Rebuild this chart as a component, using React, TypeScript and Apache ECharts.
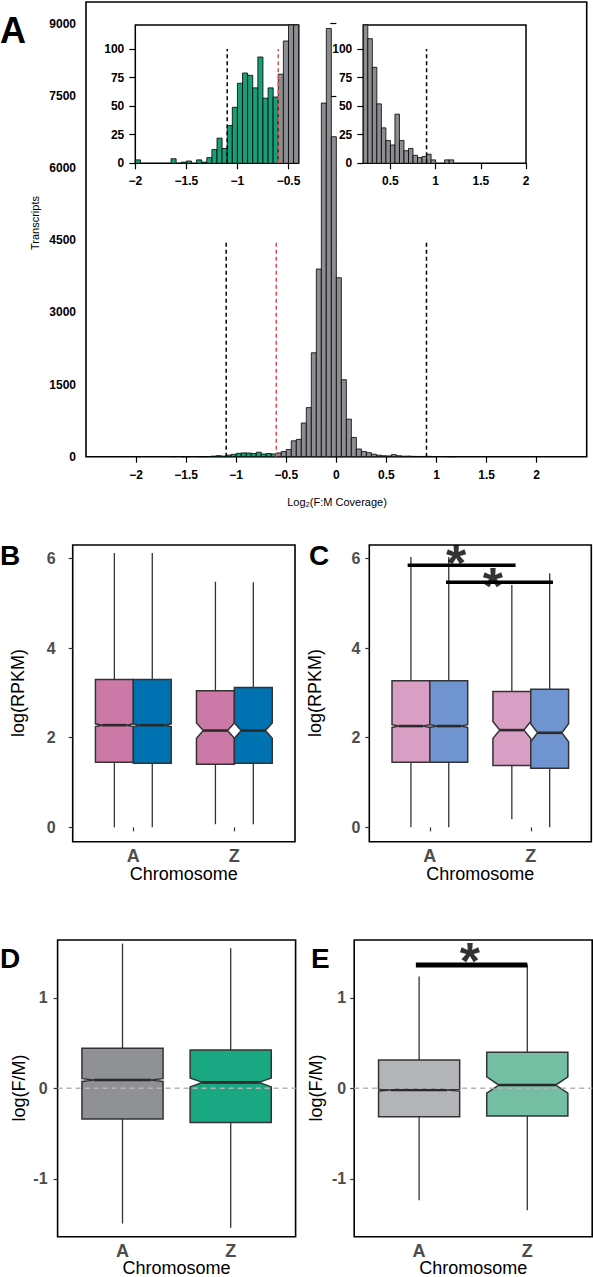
import React, { useEffect, useRef } from "react";
import * as echarts from "echarts";

const FONT = "'Liberation Sans', Arial, Helvetica, sans-serif";

// ---------- Panel A : histogram of Log2(F:M coverage) ----------
const binWidth = 0.05;
const binStarts = [
  -2.0, -1.95, -1.9, -1.85, -1.8, -1.75, -1.7, -1.65, -1.6, -1.55, -1.5, -1.45,
  -1.4, -1.35, -1.3, -1.25, -1.2, -1.15, -1.1, -1.05, -1.0, -0.95, -0.9, -0.85,
  -0.8, -0.75, -0.7, -0.65, -0.6, -0.55, -0.5, -0.45, -0.4, -0.35, -0.3, -0.25,
  -0.2, -0.15, -0.1, -0.05, 0.0, 0.05, 0.1, 0.15, 0.2, 0.25, 0.3, 0.35, 0.4,
  0.45, 0.5, 0.55, 0.6, 0.65, 0.7, 0.75, 0.8, 0.85, 0.9, 0.95, 1.0, 1.05, 1.1, 1.15,
];
const binCounts = [
  3, 0, 0, 0, 0, 0, 0, 4, 0, 1, 2, 0,
  3, 1, 5, 12, 22, 13, 33, 49, 70, 79, 77, 66,
  93, 57, 66, 58, 78, 107, 150, 330, 360, 700, 1020, 2160,
  3900, 7350, 8900, 6650, 3720, 1600, 780, 400, 160, 109, 84, 52, 31,
  20, 16, 43, 20, 11, 13, 7, 5, 6, 8, 3, 0, 0, 3, 3,
];
const cutLow = -1.1;
const cutRed = -0.6;
const cutMedian = -0.1;
const cutHigh = 0.9;
const cutLineTop = 4500;
const medianLineTop = 6200;
const insetCutTop = 100;

const mainXTicks = [-2, -1.5, -1, -0.5, 0, 0.5, 1, 1.5, 2];
const mainYTicks = [0, 1500, 3000, 4500, 6000, 7500, 9000];
const insetYTicks = [0, 25, 50, 75, 100];
const insetLeftXTicks = [-2, -1.5, -1, -0.5];
const insetRightXTicks = [0.5, 1, 1.5, 2];

// ---------- Panels B-E : box plots ----------
const chromosomes = ["A", "Z"];
const rpkmTicks = [0, 2, 4, 6];
const fmTicks = [-1, 0, 1];

// [whiskerLow, Q1, median, Q3, whiskerHigh, notchHalfHeight]
const bAFemale = [0.0, 1.45, 2.28, 3.3, 6.12, 0.03];
const bAMale = [0.0, 1.43, 2.28, 3.3, 6.12, 0.03];
const bZFemale = [0.07, 1.41, 2.16, 3.05, 5.48, 0.17];
const bZMale = [0.07, 1.43, 2.16, 3.12, 5.47, 0.17];

const cAFemale = [0.0, 1.45, 2.26, 3.27, 6.03, 0.03];
const cAMale = [0.0, 1.45, 2.26, 3.27, 6.03, 0.03];
const cZFemale = [0.18, 1.38, 2.17, 3.03, 5.41, 0.19];
const cZMale = [0.0, 1.32, 2.11, 3.08, 5.67, 0.2];

const dA = [-1.495, -0.34, 0.092, 0.443, 1.6, 0.015];
const dZ = [-1.54, -0.377, 0.066, 0.424, 1.55, 0.05];

const eA = [-1.237, -0.314, -0.019, 0.313, 1.236, 0.01];
const eZ = [-1.348, -0.307, 0.037, 0.399, 1.37, 0.09];

// significance brackets [xStart, xEnd, y] and stars [x, y]
const bracketsC = [
  [0.78, 1.85, 5.85],
  [1.16, 2.22, 5.47],
];
const starsC = [
  [1.26, 5.89],
  [1.625, 5.39],
];
const bracketsE = [[0.97, 2.0, 1.365]];
const starsE = [[1.47, 1.41]];

const GREEN = "#1b9e77";
const GRAY = "#8c8d90";
const colorsB = ["#CC79A7", "#0072B2", "#CC79A7", "#0072B2"];
const colorsC = ["#d89ec3", "#7094cf", "#d89ec3", "#7094cf"];
const colorsD = ["#8f9194", "#1aa882"];
const colorsE = ["#b3b4b7", "#74bea3"];

const minusFmt = (v: number) => (v < 0 ? "\u2212" + Math.abs(v) : String(v));

function histData(lo: number, hi: number) {
  const out: number[][] = [];
  binStarts.forEach((s, i) => {
    const e = s + binWidth;
    if (s >= lo - 1e-9 && e <= hi + 1e-9 && binCounts[i] > 0) out.push([s, e, binCounts[i]]);
  });
  return out;
}

function histRender(cap: number) {
  return (params: any, api: any) => {
    const x0 = api.value(0);
    const x1 = api.value(1);
    const v = Math.min(api.value(2), cap);
    const a = api.coord([x0, 0]);
    const b = api.coord([x1, v]);
    return {
      type: "rect",
      shape: { x: a[0], y: b[1], width: b[0] - a[0], height: a[1] - b[1] },
      style: { fill: x0 < cutRed - 1e-9 ? GREEN : GRAY, stroke: "#000", lineWidth: 0.8 },
    };
  };
}

function boxRender(colors: string[], width: number, indentFrac: number) {
  return (params: any, api: any) => {
    const x = api.value(0);
    const lo = api.value(1);
    const q1 = api.value(2);
    const med = api.value(3);
    const q3 = api.value(4);
    const hi = api.value(5);
    const nh = api.value(6);
    const hw = width / 2;
    const ind = width * indentFrac;
    const P = (xx: number, yy: number) => api.coord([xx, yy]);
    const top = P(x, hi);
    const bot = P(x, lo);
    const pq3 = P(x, q3);
    const pq1 = P(x, q1);
    const pts = [
      P(x - hw, q3), P(x + hw, q3), P(x + hw, med + nh), P(x + hw - ind, med),
      P(x + hw, med - nh), P(x + hw, q1), P(x - hw, q1), P(x - hw, med - nh),
      P(x - hw + ind, med), P(x - hw, med + nh),
    ];
    const m0 = P(x - hw + ind, med);
    const m1 = P(x + hw - ind, med);
    return {
      type: "group",
      children: [
        { type: "line", shape: { x1: top[0], y1: top[1], x2: pq3[0], y2: pq3[1] }, style: { stroke: "#333", lineWidth: 1.3 } },
        { type: "line", shape: { x1: bot[0], y1: bot[1], x2: pq1[0], y2: pq1[1] }, style: { stroke: "#333", lineWidth: 1.3 } },
        { type: "polygon", shape: { points: pts }, style: { fill: colors[params.dataIndex], stroke: "#333", lineWidth: 1.5 } },
        { type: "line", shape: { x1: m0[0], y1: m0[1], x2: m1[0], y2: m1[1] }, style: { stroke: "#2a2a2a", lineWidth: 2.6 } },
      ],
    };
  };
}

function boxData(stats: number[][], dodge: boolean) {
  return stats.map((s, i) => {
    const cat = dodge ? Math.floor(i / 2) : i;
    const off = dodge ? (i % 2 === 0 ? -0.1875 : 0.1875) : 0;
    return [cat + 1 + off, ...s];
  });
}

function vline(x: number, top: number, color: string, xi: number, z: number) {
  return {
    type: "line", xAxisIndex: xi, yAxisIndex: xi, z, silent: true, symbol: "none",
    data: [[x, 0], [x, top]],
    lineStyle: { color, width: 1.5, type: [4, 3] },
  };
}

function txt(text: string, x: number, y: number, size: number, o: any = {}) {
  return {
    type: "text", x, y, rotation: o.rot || 0, silent: true, z: 50,
    style: {
      text, fontSize: size, fontFamily: FONT, fontWeight: o.weight || "normal",
      fill: o.color || "#000", align: o.align || "center", verticalAlign: "middle",
    },
  };
}

function histXAxis(grid: number, min: number, max: number, ticks: number[], z: number) {
  return {
    type: "value", gridIndex: grid, min, max, z,
    axisLine: { show: false }, splitLine: { show: false },
    axisTick: { show: true, customValues: ticks, length: 6, lineStyle: { color: "#000", width: 1.2 } },
    axisLabel: { customValues: ticks, formatter: minusFmt, fontSize: 12, fontWeight: "bold", color: "#000", fontFamily: FONT, margin: 12 },
  };
}
function histYAxis(grid: number, min: number, max: number, ticks: number[], z: number, margin: number) {
  return {
    type: "value", gridIndex: grid, min, max, z,
    axisLine: { show: false }, splitLine: { show: false },
    axisTick: { show: true, customValues: ticks, length: 6, lineStyle: { color: "#000", width: 1.2 } },
    axisLabel: { customValues: ticks, formatter: (v: number) => String(v), fontSize: 12, fontWeight: "bold", color: "#000", fontFamily: FONT, margin },
  };
}
function boxXAxis(grid: number) {
  return {
    type: "value", gridIndex: grid, min: 0.4, max: 2.6,
    axisLine: { show: false }, splitLine: { show: false },
    axisTick: { show: true, customValues: [1, 2], length: 4, lineStyle: { color: "#333", width: 1.2 } },
    axisLabel: { customValues: [1, 2], formatter: (v: number) => chromosomes[Math.round(v) - 1], fontSize: 18, fontWeight: "bold", color: "#4d4d4d", fontFamily: FONT, margin: 5 },
  };
}
function boxYAxis(grid: number, min: number, max: number, ticks: number[], margin: number) {
  return {
    type: "value", gridIndex: grid, min, max,
    axisLine: { show: false }, splitLine: { show: false },
    axisTick: { show: true, customValues: ticks, length: 4, lineStyle: { color: "#333", width: 1.2 } },
    axisLabel: { customValues: ticks, formatter: (v: number) => String(v), fontSize: 16, fontWeight: "bold", color: "#4d4d4d", fontFamily: FONT, margin },
  };
}

function bracketSeries(list: number[][], xi: number, width: number) {
  return list.map((b) => ({
    type: "line", xAxisIndex: xi, yAxisIndex: xi, z: 10, silent: true, symbol: "none",
    data: [[b[0], b[2]], [b[1], b[2]]],
    lineStyle: { color: "#000", width },
  }));
}
function starSeries(list: number[][], xi: number) {
  return {
    type: "scatter", xAxisIndex: xi, yAxisIndex: xi, z: 11, silent: true,
    symbolSize: 1, itemStyle: { color: "rgba(0,0,0,0)" },
    data: list,
    label: { show: true, position: "inside", formatter: "*", fontSize: 52, fontWeight: "bold", color: "#000", fontFamily: FONT },
  };
}

export default function App() {
  const ref = useRef<HTMLDivElement>(null);
  useEffect(() => {
    if (!ref.current) return;
    const chart = echarts.init(ref.current, undefined, { renderer: "svg" });
    const frame = { show: true, borderColor: "#000", borderWidth: 1.6, backgroundColor: "rgba(0,0,0,0)" };
    const insetFrame = { show: true, borderColor: "#000", borderWidth: 1.5, backgroundColor: "#fff", z: 5 };
    const option: any = {
      animation: false,
      grid: [
        { ...frame, left: 86, top: 2, width: 500.7, height: 454.7 },
        { ...insetFrame, left: 135.3, top: 25, width: 163.4, height: 138.3 },
        { ...insetFrame, left: 363.3, top: 25, width: 162.7, height: 138.3 },
        { ...frame, left: 72.7, top: 545, width: 222.3, height: 296.7 },
        { ...frame, left: 369.3, top: 545, width: 222, height: 296.7 },
        { ...frame, left: 57.6, top: 940, width: 238, height: 296.7 },
        { ...frame, left: 354.2, top: 940, width: 238, height: 296.7 },
      ],
      xAxis: [
        histXAxis(0, -2.5, 2.5, mainXTicks, 0),
        histXAxis(1, -2, -0.4, insetLeftXTicks, 6),
        histXAxis(2, 0.2, 2, insetRightXTicks, 6),
        boxXAxis(3), boxXAxis(4), boxXAxis(5), boxXAxis(6),
      ],
      yAxis: [
        histYAxis(0, 0, 9450, mainYTicks, 0, 10),
        histYAxis(1, 0, 121, insetYTicks, 6, 11),
        histYAxis(2, 0, 121, insetYTicks, 6, 11),
        boxYAxis(3, -0.32, 6.3, rpkmTicks, 17),
        boxYAxis(4, -0.32, 6.3, rpkmTicks, 9),
        boxYAxis(5, -1.64, 1.64, fmTicks, 10),
        boxYAxis(6, -1.64, 1.64, fmTicks, 8),
      ],
      series: [
        { type: "custom", xAxisIndex: 0, yAxisIndex: 0, z: 1, silent: true, renderItem: histRender(1e9), data: histData(-2.5, 2.5) },
        vline(cutLow, cutLineTop, "#000", 0, 2),
        vline(cutRed, cutLineTop, "#e5484d", 0, 2),
        vline(cutHigh, cutLineTop, "#000", 0, 2),
        vline(cutMedian, medianLineTop, "#3a3a3a", 0, 2),

        { type: "custom", xAxisIndex: 1, yAxisIndex: 1, z: 7, silent: true, renderItem: histRender(121), data: histData(-2, -0.4) },
        vline(cutLow, insetCutTop, "#000", 1, 8),
        vline(cutRed, insetCutTop, "#d9534f", 1, 8),

        { type: "custom", xAxisIndex: 2, yAxisIndex: 2, z: 7, silent: true, renderItem: histRender(121), data: histData(0.2, 2) },
        vline(cutHigh, insetCutTop, "#000", 2, 8),

        { type: "custom", xAxisIndex: 3, yAxisIndex: 3, z: 3, silent: true, renderItem: boxRender(colorsB, 0.375, 0.18), data: boxData([bAFemale, bAMale, bZFemale, bZMale], true) },
        { type: "custom", xAxisIndex: 4, yAxisIndex: 4, z: 3, silent: true, renderItem: boxRender(colorsC, 0.375, 0.18), data: boxData([cAFemale, cAMale, cZFemale, cZMale], true) },
        ...bracketSeries(bracketsC, 4, 3.5),
        starSeries(starsC, 4),

        { type: "custom", xAxisIndex: 5, yAxisIndex: 5, z: 3, silent: true, renderItem: boxRender(colorsD, 0.75, 0.15), data: boxData([dA, dZ], false) },
        { type: "line", xAxisIndex: 5, yAxisIndex: 5, z: 9, silent: true, symbol: "none", data: [[0.4, 0], [2.6, 0]], lineStyle: { color: "#b5b5b5", width: 1.5, type: [5, 4] } },

        { type: "custom", xAxisIndex: 6, yAxisIndex: 6, z: 3, silent: true, renderItem: boxRender(colorsE, 0.75, 0.15), data: boxData([eA, eZ], false) },
        { type: "line", xAxisIndex: 6, yAxisIndex: 6, z: 9, silent: true, symbol: "none", data: [[0.4, 0], [2.6, 0]], lineStyle: { color: "#b5b5b5", width: 1.5, type: [5, 4] } },
        ...bracketSeries(bracketsE, 6, 5),
        starSeries(starsE, 6),
      ],
      graphic: [
        txt("A", 0, 30, 36, { weight: "bold", align: "left" }),
        txt("B", 0, 555, 28, { weight: "bold", align: "left" }),
        txt("C", 309, 555, 28, { weight: "bold", align: "left" }),
        txt("D", 0, 958, 28, { weight: "bold", align: "left" }),
        txt("E", 311, 958, 28, { weight: "bold", align: "left" }),
        txt("Transcripts", 35, 223, 11, { rot: Math.PI / 2 }),
        txt("Log\u2082(F:M Coverage)", 337, 502, 11),
        txt("log(RPKM)", 18, 693, 18, { rot: Math.PI / 2 }),
        txt("log(RPKM)", 315, 693, 18, { rot: Math.PI / 2 }),
        txt("Chromosome", 183.8, 874, 18),
        txt("Chromosome", 480.3, 874, 18),
        txt("log(F/M)", 19, 1088, 18, { rot: Math.PI / 2 }),
        txt("log(F/M)", 316, 1088, 18, { rot: Math.PI / 2 }),
        txt("Chromosome", 176.6, 1268, 18),
        txt("Chromosome", 473.2, 1268, 18),
      ],
    };
    chart.setOption(option);
    return () => chart.dispose();
  }, []);
  return <div ref={ref} style={{ position: "absolute", left: 0, top: 0, width: 593, height: 1277 }} />;
}
